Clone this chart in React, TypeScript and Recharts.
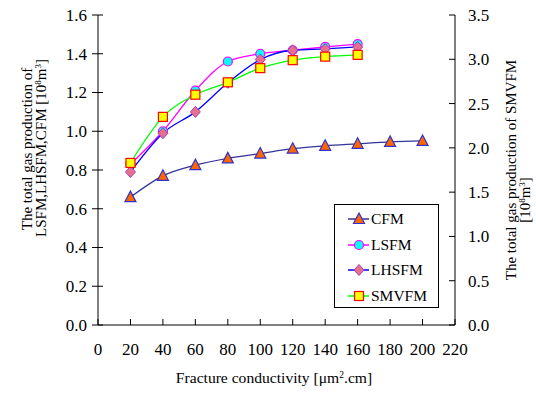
import React from "react";
import { LineChart, Line, XAxis, YAxis } from "recharts";

const CONDUCTIVITY = [20, 40, 60, 80, 100, 120, 140, 160, 180, 200];
const CFM = [0.66, 0.77, 0.825, 0.86, 0.885, 0.91, 0.925, 0.935, 0.945, 0.95];
const LSFM = [0.83, 1.0, 1.21, 1.36, 1.4, 1.418, 1.435, 1.45];
const LHSFM = [0.79, 0.99, 1.1, 1.25, 1.37, 1.418, 1.425, 1.435];
const SMVFM = [1.83, 2.35, 2.6, 2.74, 2.9, 2.99, 3.03, 3.05];

const X_TICKS = [0, 20, 40, 60, 80, 100, 120, 140, 160, 180, 200, 220];
const LEFT_TICKS = [0, 0.2, 0.4, 0.6, 0.8, 1.0, 1.2, 1.4, 1.6];
const RIGHT_TICKS = [0, 0.5, 1.0, 1.5, 2.0, 2.5, 3.0, 3.5];

const FONT = "Liberation Serif";

const toPoints = (vals: number[]) => vals.map((v, i) => ({ x: CONDUCTIVITY[i], y: v }));

type MarkerKind = "triangle" | "circle" | "diamond" | "square";

function Marker({ kind, cx, cy }: { kind: MarkerKind; cx: number; cy: number }) {
  if (kind === "triangle") {
    return (
      <polygon
        points={`${cx},${cy - 6} ${cx - 5.5},${cy + 4.5} ${cx + 5.5},${cy + 4.5}`}
        fill="#FF6600"
        stroke="#3333CC"
        strokeWidth={1.2}
      />
    );
  }
  if (kind === "circle") {
    return <circle cx={cx} cy={cy} r={4.5} fill="#00FFFF" stroke="#FF00FF" strokeWidth={1.2} />;
  }
  if (kind === "diamond") {
    return (
      <polygon
        points={`${cx},${cy - 5.5} ${cx + 5},${cy} ${cx},${cy + 5.5} ${cx - 5},${cy}`}
        fill="#E8708F"
        stroke="#A040B0"
        strokeWidth={1}
      />
    );
  }
  return <rect x={cx - 4.5} y={cy - 4.5} width={9} height={9} fill="#FFFF00" stroke="#FF0000" strokeWidth={1.2} />;
}

const SERIES = [
  { name: "CFM", data: CFM, axis: "left", line: "#333399", marker: "triangle" as MarkerKind },
  { name: "LSFM", data: LSFM, axis: "left", line: "#FF00FF", marker: "circle" as MarkerKind },
  { name: "LHSFM", data: LHSFM, axis: "left", line: "#0000FF", marker: "diamond" as MarkerKind },
  { name: "SMVFM", data: SMVFM, axis: "right", line: "#00FF00", marker: "square" as MarkerKind },
];

const LeftTick = (props: any) => {
  const { x, y, payload } = props;
  return (
    <g>
      <line x1={x + 5} x2={x + 16} y1={y} y2={y} stroke="#000" />
      <text x={x} y={y} dy="0.35em" textAnchor="end" fontFamily={FONT} fontSize={17} fill="#000">
        {Number(payload.value).toFixed(1)}
      </text>
    </g>
  );
};

const RightTick = (props: any) => {
  const { x, y, payload } = props;
  return (
    <g>
      <line x1={x - 13} x2={x - 19} y1={y} y2={y} stroke="#000" />
      <text x={x} y={y} dy="0.35em" textAnchor="start" fontFamily={FONT} fontSize={17} fill="#000">
        {Number(payload.value).toFixed(1)}
      </text>
    </g>
  );
};

const BottomTick = (props: any) => {
  const { x, y, payload } = props;
  return (
    <g>
      <line x1={x} x2={x} y1={y - 18} y2={y - 24} stroke="#000" />
      <text x={x} y={y} dy="0.72em" textAnchor="middle" fontFamily={FONT} fontSize={17} fill="#000">
        {payload.value}
      </text>
    </g>
  );
};

// superscript helper for the unit [10^8 m^3]
const Unit = () => (
  <>
    [10<tspan dy={-5} fontSize={9}>8</tspan>
    <tspan dy={5}>m</tspan>
    <tspan dy={-5} fontSize={9}>3</tspan>
    <tspan dy={5}>]</tspan>
  </>
);

const LegendBox = () => (
  <div
    style={{
      position: "absolute",
      left: 334,
      top: 204,
      width: 105,
      height: 104,
      border: "1px solid #000",
      background: "#fff",
      boxSizing: "border-box",
      paddingTop: 1,
      fontFamily: FONT,
      fontSize: 15.5,
      color: "#000",
    }}
  >
    {SERIES.map((s) => (
      <div key={s.name} style={{ display: "flex", alignItems: "center", height: 25.7 }}>
        <svg width={36} height={14} style={{ flex: "none" }}>
          <line x1={13} x2={34} y1={7} y2={7} stroke={s.line} strokeWidth={1.5} />
          <Marker kind={s.marker} cx={24} cy={7} />
        </svg>
        <span style={{ lineHeight: 1 }}>{s.name}</span>
      </div>
    ))}
  </div>
);

export default function App() {
  return (
    <div style={{ position: "absolute", left: 0, top: 0, width: 536, height: 394, background: "#fff" }}>
      <LineChart width={536} height={394} margin={{ top: 15, right: 21, left: 38, bottom: 39 }}>
        <XAxis
          dataKey="x"
          type="number"
          domain={[0, 220]}
          ticks={X_TICKS}
          interval={0}
          allowDuplicatedCategory={false}
          height={30}
          stroke="#000"
          tickLine={false}
          tickSize={0}
          tickMargin={18}
          tick={BottomTick}
          label={{
            content: () => (
              <text x={274} y={383} textAnchor="middle" fontFamily={FONT} fontSize={15.6} fill="#000">
                Fracture conductivity [μm<tspan dy={-5} fontSize={9.5}>2</tspan>
                <tspan dy={5}>.cm]</tspan>
              </text>
            ),
          }}
        />
        <YAxis
          yAxisId="left"
          domain={[0, 1.6]}
          ticks={LEFT_TICKS}
          interval={0}
          width={60}
          stroke="#000"
          tickLine={false}
          tickSize={0}
          tickMargin={11}
          tick={LeftTick}
          label={{
            content: () => (
              <g fontFamily={FONT} fontSize={15} fill="#000">
                <text x={27} y={149} transform="rotate(-90 27 149)" textAnchor="middle" dy="0.35em">
                  The total gas production of
                </text>
                <text x={41} y={148} transform="rotate(-90 41 148)" textAnchor="middle" dy="0.35em">
                  LSFM,LHSFM,CFM  <Unit />
                </text>
              </g>
            ),
          }}
        />
        <YAxis
          yAxisId="right"
          orientation="right"
          domain={[0, 3.5]}
          ticks={RIGHT_TICKS}
          interval={0}
          width={60}
          stroke="#000"
          tickLine={false}
          tickSize={0}
          tickMargin={13}
          tick={RightTick}
          label={{
            content: () => (
              <g fontFamily={FONT} fontSize={15} fill="#000">
                <text x={511} y={170} transform="rotate(-90 511 170)" textAnchor="middle" dy="0.35em">
                  The total  gas  production of SMVFM
                </text>
                <text x={525} y={200} transform="rotate(-90 525 200)" textAnchor="middle" dy="0.35em">
                  <Unit />
                </text>
              </g>
            ),
          }}
        />
        {SERIES.map((s) => (
          <Line
            key={s.name}
            yAxisId={s.axis}
            data={toPoints(s.data)}
            dataKey="y"
            name={s.name}
            type="monotone"
            stroke={s.line}
            strokeWidth={1.3}
            isAnimationActive={false}
            activeDot={false}
            dot={(p: any) => <Marker key={`${s.name}-${p.index}`} kind={s.marker} cx={p.cx} cy={p.cy} />}
          />
        ))}
      </LineChart>
      <LegendBox />
    </div>
  );
}
